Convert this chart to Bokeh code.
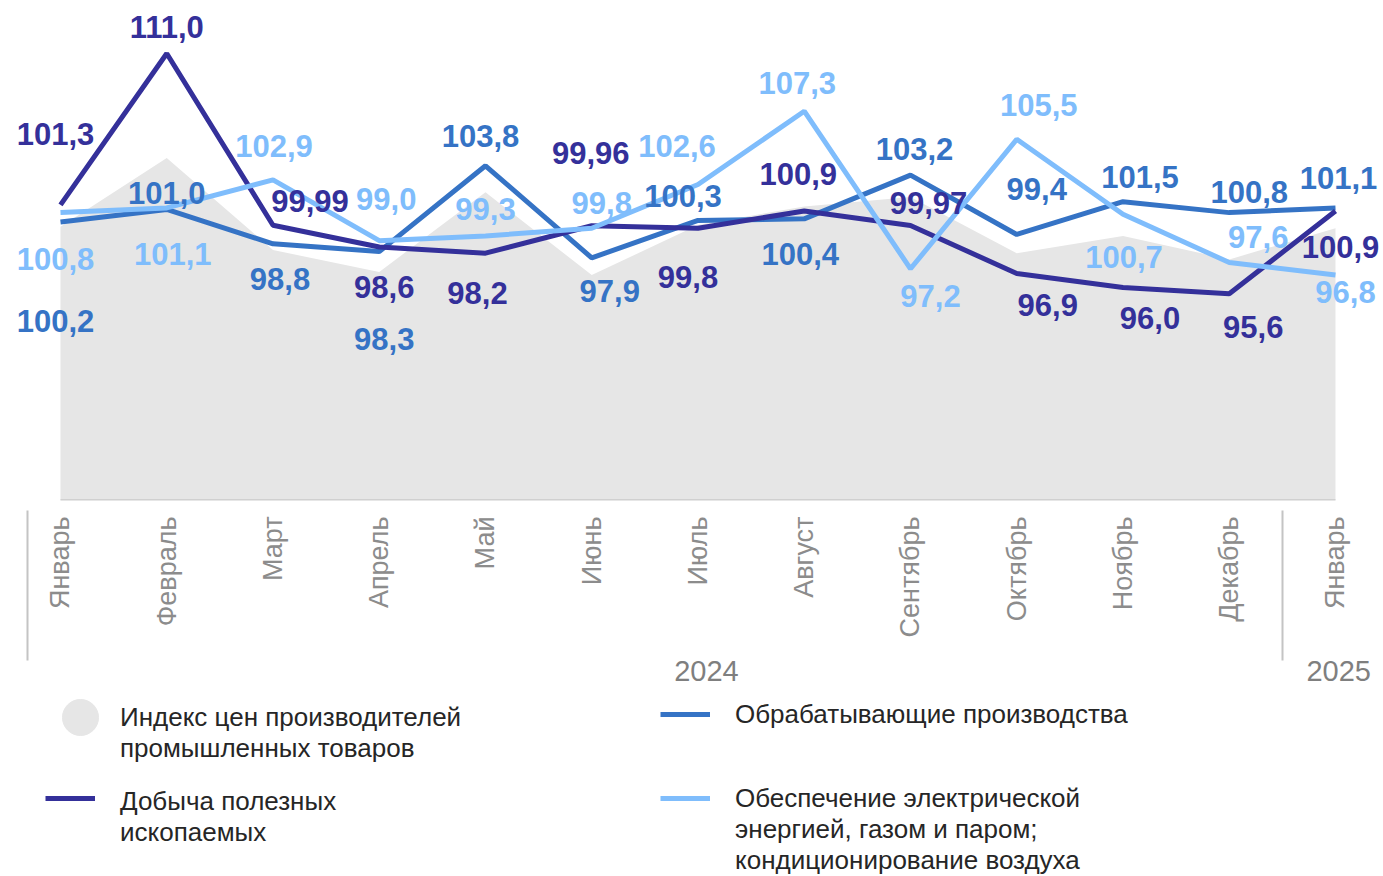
import math
from bokeh.plotting import figure
from bokeh.layouts import column
from bokeh.models import Range1d, LinearAxis, FixedTicker, Legend, LegendItem, ColumnDataSource
from bokeh.core.properties import value
from bokeh.embed import file_html
from bokeh.resources import INLINE

# ---------------- data ----------------
months = ["Январь", "Февраль", "Март", "Апрель", "Май", "Июнь", "Июль",
          "Август", "Сентябрь", "Октябрь", "Ноябрь", "Декабрь", "Январь"]
years = ["2024", "2025"]
ppi = [99.9, 104.3, 98.4, 97.0, 102.1, 96.8, 100.0, 101.2, 101.8, 98.2, 99.3, 97.8, 99.8]
mining = [101.3, 111.0, 99.99, 98.6, 98.2, 99.96, 99.8, 100.9, 99.97, 96.9, 96.0, 95.6, 100.9]
manufacturing = [100.2, 101.0, 98.8, 98.3, 103.8, 97.9, 100.3, 100.4, 103.2, 99.4, 101.5, 100.8, 101.1]
energy = [100.8, 101.1, 102.9, 99.0, 99.3, 99.8, 102.6, 107.3, 97.2, 105.5, 100.7, 97.6, 96.8]

series_names = [
    "Индекс цен производителей\nпромышленных товаров",
    "Добыча полезных\nископаемых",
    "Обрабатывающие производства",
    "Обеспечение электрической\nэнергией, газом и паром;\nкондиционирование воздуха",
]

# ---------------- label placement (screen px offsets) ----------------
mining_dx = [-5, 0, 37, 5, -8, -1, -10, -6, 18, 31, 27, 24, 5]
mining_dy = [-71, -26, -24, 40, 40, -73, 49, -37, -23, 32, 31, 33, 36]
manuf_dx = [-5, 0, 7, 5, -5, 18, -15, -4, 4, 20, 17, 20, 3]
manuf_dy = [99, -16, 35, 87, -30, 33, -24, 35, -26, -45, -25, -21, -30]
energy_dx = [-5, 6, 1, 7, 0, 10, -21, -7, 20, 22, 1, 29, 10]
energy_dy = [46, 46, -34, -42, -27, -25, -39, -28, 27, -34, 43, -26, 17]

C_NAVY = "#34309a"
C_MID = "#3573c5"
C_LIGHT = "#7fbdfc"
C_AREA = "#e6e6e6"
FONT = "Liberation Sans"


def fmt(v):
    s = f"{v:.1f}" if abs(round(v, 1) - v) < 1e-9 else f"{v:.2f}"
    return s.replace(".", ",")


xs = list(range(len(months)))
Y0, Y1 = 82.346, 114.397
CH = 696  # chart height

p = figure(width=1383, height=CH,
           x_range=Range1d(-0.5647, 12.4518), y_range=Range1d(Y0, Y1),
           output_backend="svg", toolbar_location=None,
           x_axis_type=None, y_axis_type=None,
           min_border_left=0, min_border_right=0, min_border_top=0, min_border_bottom=CH - 500)
p.outline_line_color = None
p.background_fill_color = "white"
p.border_fill_color = "white"

# area (PPI)
area_src = ColumnDataSource(dict(x=xs, top=ppi, base=[Y0] * len(xs)))
p.varea(x="x", y1="base", y2="top", source=area_src, fill_color=C_AREA)
p.line(x=[xs[0], xs[-1]], y=[Y0 + 0.03, Y0 + 0.03], line_color="#c8c8c8", line_width=1.5)

# lines
p.line(xs, manufacturing, line_color=C_MID, line_width=5)
p.line(xs, mining, line_color=C_NAVY, line_width=5)
p.line(xs, energy, line_color=C_LIGHT, line_width=5)

# data labels
for vals, dx, dy, col in [(manufacturing, manuf_dx, manuf_dy, C_MID),
                          (energy, energy_dx, energy_dy, C_LIGHT),
                          (mining, mining_dx, mining_dy, C_NAVY)]:
    src = ColumnDataSource(dict(x=xs, y=vals, t=[fmt(v) for v in vals], dx=dx, dy=dy))
    p.text(x="x", y="y", text="t", x_offset="dx", y_offset="dy", source=src,
           text_align="center", text_baseline="middle",
           text_font=value(FONT), text_font_style="bold", text_font_size="31px",
           text_color=col)

# month axis
month_axis = LinearAxis(
    ticker=FixedTicker(ticks=xs, minor_ticks=[]),
    major_label_overrides={i: m for i, m in enumerate(months)},
    major_label_orientation=math.pi / 2,
    major_label_text_font=FONT, major_label_text_font_size="27px",
    major_label_text_color="#8c8c8c",
    major_label_standoff=16,
    axis_line_color=None,
    major_tick_line_color=None, major_tick_in=0, major_tick_out=0,
    minor_tick_line_color=None,
)
p.add_layout(month_axis, "below")

# year axis; its minor ticks (drawn inward) are the group separators
year_axis = LinearAxis(
    ticker=FixedTicker(ticks=[6.08, 12.03], minor_ticks=[-0.31, 11.5]),
    major_label_overrides={6.08: years[0], 12.03: years[1]},
    major_label_text_font=FONT, major_label_text_font_size="29px",
    major_label_text_color="#7f7f7f",
    major_label_standoff=0,
    axis_line_color=None,
    major_tick_line_color=None, major_tick_in=0, major_tick_out=0,
    minor_tick_line_color="#c4c4c4", minor_tick_line_width=2,
    minor_tick_in=130, minor_tick_out=20,
)
p.add_layout(year_axis, "below")

# ---------------- legend panel ----------------
LH = 876 - CH
q = figure(width=1383, height=LH, x_range=Range1d(0, 1), y_range=Range1d(0, 1),
           output_backend="svg", toolbar_location=None,
           x_axis_type=None, y_axis_type=None,
           min_border_left=0, min_border_right=0, min_border_top=0, min_border_bottom=0)
q.outline_line_color = None
q.background_fill_color = "white"
q.border_fill_color = "white"

# legend glyph renderers (same series; their data lies outside this panel's view)
g_ppi = q.scatter(xs, ppi, marker="circle", fill_color=C_AREA, line_color=C_AREA)
g_mining = q.line(xs, mining, line_color=C_NAVY, line_width=5)
g_manuf = q.line(xs, manufacturing, line_color=C_MID, line_width=5)
g_energy = q.line(xs, energy, line_color=C_LIGHT, line_width=5)


def add_legend(label, renderer, loc, gw, gh, standoff, lh=1.23):
    lg = Legend(items=[LegendItem(label=label, renderers=[renderer])],
                location=loc, orientation="vertical",
                glyph_width=gw, glyph_height=gh, label_standoff=standoff,
                label_text_font=FONT, label_text_font_size="26px",
                label_text_color="#262626", label_text_line_height=lh,
                label_width=1, label_height=1,
                border_line_color=None, background_fill_alpha=0,
                padding=0, margin=0, spacing=0)
    q.add_layout(lg)


# swatches aligned with the first text line (blank labels) ...
add_legend(" ", g_ppi, (35, 876 - 762), 90, 90, 0)
add_legend(" ", g_mining, (45, 876 - 814), 50, 32, 0)
add_legend(" ", g_energy, (660, 876 - 814), 50, 32, 0)
# ... and the texts themselves (zero-width swatch)
add_legend(series_names[0], g_ppi, (120, 112), 0, 1, 0)
add_legend(series_names[1], g_mining, (120, 28), 0, 1, 0)
add_legend(series_names[2], g_manuf, (660, 146), 50, 32, 25)
add_legend(series_names[3], g_energy, (735, 0), 0, 1, 0, 1.2)

open("out.html", "w").write(file_html(column(p, q, spacing=0), INLINE))
